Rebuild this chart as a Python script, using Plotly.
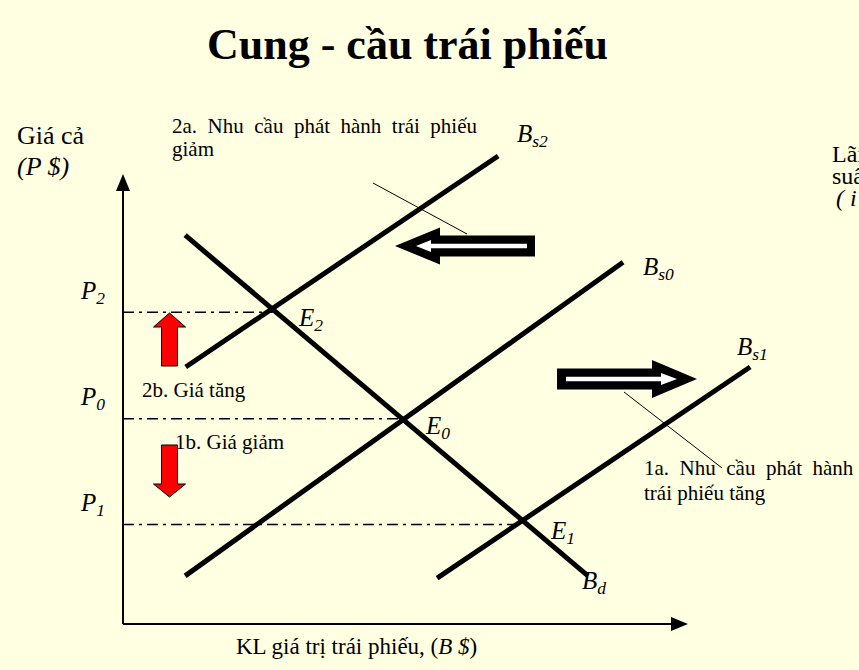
import plotly.graph_objects as go

W, H = 859, 670

# ---------------- data (abstract units: quantity 0..100, price 0..100) ----------------
quantity_axis = [0, 100]
price_axis = [0, 100]

curve_names = ["B<sub>d</sub>", "B<sub>s0</sub>", "B<sub>s1</sub>", "B<sub>s2</sub>"]
bd_q = [11.0, 82.3]
bd_p = [86.4, 10.7]
bs0_q = [11.0, 88.5]
bs0_p = [10.7, 80.4]
bs1_q = [55.6, 111.0]
bs1_p = [10.2, 57.1]
bs2_q = [11.1, 66.4]
bs2_p = [57.1, 104.0]

eq_labels = ["E<sub>2</sub>", "E<sub>0</sub>", "E<sub>1</sub>"]
price_labels = ["P<sub>2</sub>", "P<sub>0</sub>", "P<sub>1</sub>"]
eq_q = [26.5, 49.8, 70.7]
eq_p = [69.3, 45.6, 22.1]

# ---------------- layout mapping (pixels) ----------------
X0, XS = 123.0, 5.65     # pixel of q=0, pixels per unit
Y0, YS = 624.0, 4.5      # pixel of p=0, pixels per unit
xr = [-X0 / XS, (W - X0) / XS]
yr = [-(H - Y0) / YS, Y0 / YS]


def qpx(q):
    return X0 + q * XS


def ppx(p):
    return Y0 - p * YS


def path(points):
    s = "M " + " L ".join(f"{x / W:.5f},{1 - y / H:.5f}" for x, y in points) + " Z"
    return s


BG = "#FFFFE1"
FONT = "Liberation Serif"
BLACK = "#000000"

fig = go.Figure()

# dash-dot price guide lines
for q, p in zip(eq_q, eq_p):
    fig.add_trace(go.Scatter(x=[quantity_axis[0], q], y=[p, p], mode="lines",
                             line=dict(color=BLACK, width=1.5, dash="11px,5px,3px,5px"),
                             hoverinfo="skip", showlegend=False))

# demand / supply curves
for name, qs, ps in zip(curve_names, [bd_q, bs0_q, bs1_q, bs2_q], [bd_p, bs0_p, bs1_p, bs2_p]):
    fig.add_trace(go.Scatter(x=qs, y=ps, mode="lines", name=name,
                             line=dict(color=BLACK, width=5), showlegend=False))

shapes = []
# axes
shapes.append(dict(type="line", xref="x", yref="y", x0=quantity_axis[0], y0=price_axis[0],
                   x1=quantity_axis[0], y1=price_axis[1] - 15 / YS, line=dict(color=BLACK, width=2)))
shapes.append(dict(type="line", xref="x", yref="y", x0=quantity_axis[0], y0=price_axis[0],
                   x1=quantity_axis[1] - 15 / XS, y1=price_axis[0], line=dict(color=BLACK, width=2)))
tx, ty = qpx(quantity_axis[0]), ppx(price_axis[1])
shapes.append(dict(type="path", xref="paper", yref="paper",
                   path=path([(tx, ty), (tx + 7, ty + 17), (tx - 7, ty + 17)]),
                   fillcolor=BLACK, line=dict(width=0)))
tx, ty = qpx(quantity_axis[1]), ppx(price_axis[0])
shapes.append(dict(type="path", xref="paper", yref="paper",
                   path=path([(tx, ty), (tx - 17, ty - 7), (tx - 17, ty + 7)]),
                   fillcolor=BLACK, line=dict(width=0)))


def hollow_arrow(tip, back, tail, yc, hh, sh):
    return [(tip, yc), (back, yc - hh), (back, yc - sh), (tail, yc - sh),
            (tail, yc + sh), (back, yc + sh), (back, yc + hh)]


# left hollow arrow (supply shifts left)
shapes.append(dict(type="path", xref="paper", yref="paper",
                   path=path(hollow_arrow(395, 440, 535, 246, 18.5, 10.5)),
                   fillcolor=BLACK, line=dict(width=0)))
shapes.append(dict(type="path", xref="paper", yref="paper",
                   path=path(hollow_arrow(416, 431, 527, 246, 6, 2.3)),
                   fillcolor="white", line=dict(width=0)))
# right hollow arrow (supply shifts right)
shapes.append(dict(type="path", xref="paper", yref="paper",
                   path=path(hollow_arrow(697, 652, 557, 379, 19, 10.5)),
                   fillcolor=BLACK, line=dict(width=0)))
shapes.append(dict(type="path", xref="paper", yref="paper",
                   path=path(hollow_arrow(677, 661, 566, 379, 6, 2.3)),
                   fillcolor="white", line=dict(width=0)))


def vert_arrow(xc, tip, back, tail, hh, sh):
    return [(xc, tip), (xc + hh, back), (xc + sh, back), (xc + sh, tail),
            (xc - sh, tail), (xc - sh, back), (xc - hh, back)]


# red price arrows
shapes.append(dict(type="path", xref="paper", yref="paper",
                   path=path(vert_arrow(169.5, 313, 327, 366, 16, 8)),
                   fillcolor="#FF0000", line=dict(color=BLACK, width=1)))
shapes.append(dict(type="path", xref="paper", yref="paper",
                   path=path(vert_arrow(169.5, 497, 484, 445, 16, 8)),
                   fillcolor="#FF0000", line=dict(color=BLACK, width=1)))

# leader lines
for (x0, y0, x1, y1) in [(373, 183, 467, 234), (624, 392, 722, 468)]:
    shapes.append(dict(type="line", xref="paper", yref="paper",
                       x0=x0 / W, y0=1 - y0 / H, x1=x1 / W, y1=1 - y1 / H,
                       line=dict(color=BLACK, width=1)))

annotations = []


def txt(text, x, yc, size, anchor="left", bold=False):
    if bold:
        text = "<b>" + text + "</b>"
    annotations.append(dict(text=text, x=x / W, y=1 - yc / H, xref="paper", yref="paper",
                            xanchor=anchor, yanchor="middle", showarrow=False,
                            font=dict(family=FONT, size=size, color=BLACK), align="left"))


# title
txt("Cung - cầu trái phiếu", 407.5, 45, 44, anchor="center", bold=True)
# axis titles
txt("Giá cả", 15, 135, 26)
txt("<i>(P $)</i>", 15, 167, 26)
txt("KL giá trị trái phiếu, (<i>B $</i>)", 356, 646, 23, anchor="center")
# right-side text, cut by the page edge as in the original slide
txt("Lãi", 830, 154, 24)
txt("suất", 830, 176, 24)
txt("<i>( i %)</i>", 834, 198, 24)

# explanatory texts
S = " \u00a0"
txt("2a." + S + "Nhu" + S + "cầu" + S + "phát" + S + "hành" + S + "trái" + S + "phiếu", 170, 126, 21)
txt("giảm", 170, 149, 21)
txt("1a." + S + "Nhu" + S + "cầu" + S + "phát" + S + "hành", 642, 468, 21)
txt("trái phiếu tăng", 642, 493, 21)
txt("2b. Giá tăng", 140, 390, 21)
txt("1b. Giá giảm", 173, 442, 21)

# curve labels
curve_label_pos = [(580, 582), (641, 268), (735, 348), (515, 135)]
for name, (x, y) in zip(curve_names, curve_label_pos):
    txt("<i>" + name + "</i>", x, y, 25)
# equilibrium labels
eq_label_pos = [(296, 319), (423, 427), (548, 532)]
for name, (x, y) in zip(eq_labels, eq_label_pos):
    txt("<i>" + name + "</i>", x, y, 25)
# price labels
for name, p in zip(price_labels, eq_p):
    txt("<i>" + name + "</i>", 78, ppx(p) - 20, 25)

fig.update_layout(
    width=W, height=H,
    margin=dict(l=0, r=0, t=0, b=0),
    paper_bgcolor=BG, plot_bgcolor=BG,
    xaxis=dict(range=xr, visible=False, fixedrange=True),
    yaxis=dict(range=yr, visible=False, fixedrange=True),
    shapes=shapes,
    annotations=annotations,
    showlegend=False,
)

fig.write_html("out.html", config={"displayModeBar": False},
               post_script="document.body.style.margin='0';")
